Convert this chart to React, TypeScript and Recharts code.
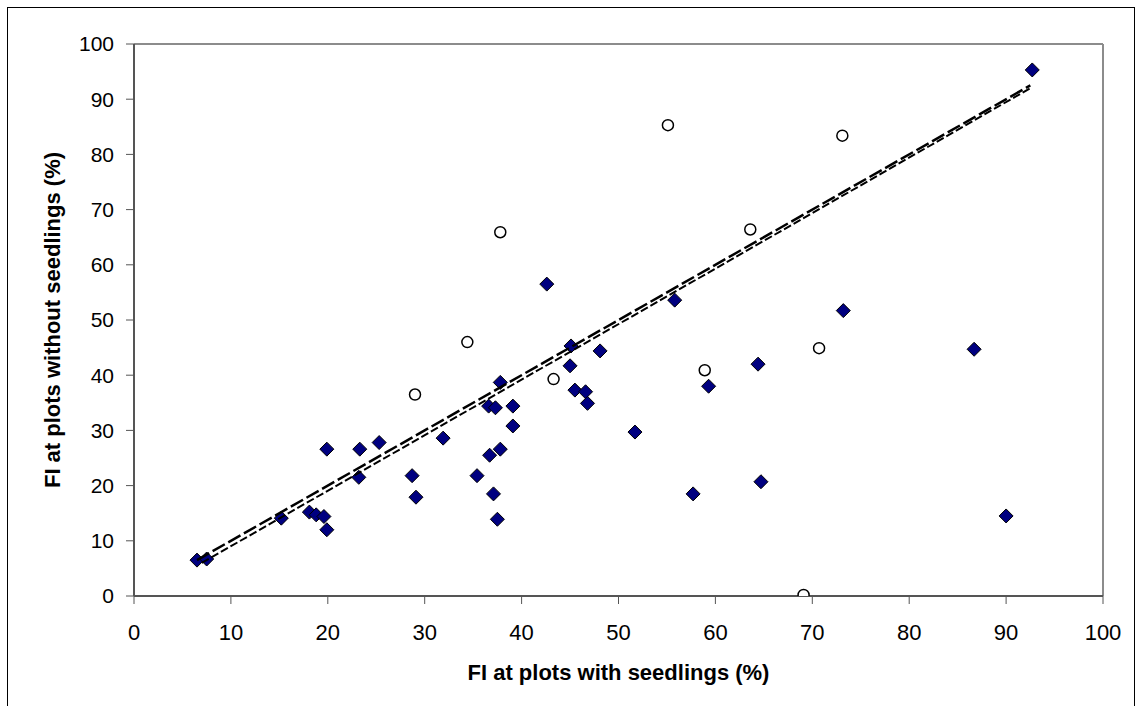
import React from "react";
import {
  ScatterChart,
  Scatter,
  XAxis,
  YAxis,
  ReferenceLine,
  Label,
} from "recharts";

// plots where seedlings were found (filled diamonds)
const seedX = [
  6.5, 7.5, 15.2, 18.1, 18.8, 19.6, 19.9, 19.9, 23.3, 25.3, 23.2, 28.7, 29.1, 31.9,
  35.4, 36.7, 37.8, 37.1, 37.5, 36.6, 37.3, 39.1, 39.1, 37.8, 42.6, 45.1, 45.0, 48.1,
  45.5, 46.6, 46.8, 51.7, 57.7, 55.8, 59.3, 64.4, 64.7, 73.2, 86.7, 90.0, 92.7,
];
const seedY = [
  6.5, 6.7, 14.1, 15.2, 14.7, 14.4, 12.0, 26.6, 26.6, 27.8, 21.5, 21.8, 17.9, 28.6,
  21.8, 25.5, 26.6, 18.5, 13.9, 34.4, 34.1, 34.4, 30.8, 38.7, 56.5, 45.3, 41.7, 44.4,
  37.3, 37.0, 34.9, 29.7, 18.5, 53.6, 38.0, 42.0, 20.7, 51.7, 44.7, 14.5, 95.3,
];

// open circles
const openX = [29.0, 34.4, 37.8, 43.3, 55.1, 58.9, 63.6, 70.7, 73.1, 69.1];
const openY = [36.5, 46.0, 65.9, 39.3, 85.3, 40.9, 66.4, 44.9, 83.4, 0.2];

// the two near-identical fit lines (end points)
const lineAX = [6.5, 92.5];
const lineAY = [6.5, 92.5];
const lineBX = [7.0, 92.5];
const lineBY = [6.0, 92.0];

const ticks = [0, 10, 20, 30, 40, 50, 60, 70, 80, 90, 100];

const toPts = (xs: number[], ys: number[]) => xs.map((x, i) => ({ x, y: ys[i] }));

const FONT = "'Liberation Sans', Arial, sans-serif";
const AXIS = "#555555";
const FRAME = "#8c8c8c";

const Diamond = (props: any) => {
  const { cx, cy } = props;
  const r = 7;
  return (
    <polygon
      points={`${cx},${cy - r} ${cx + r},${cy} ${cx},${cy + r} ${cx - r},${cy}`}
      fill="#000080"
      stroke="#000"
      strokeWidth={1}
    />
  );
};

const Ring = (props: any) => {
  const { cx, cy } = props;
  return <circle cx={cx} cy={cy} r={5.5} fill="#fff" stroke="#000" strokeWidth={1.5} />;
};

const NoDot = () => null;

const YTitle = (props: any) => {
  const { viewBox } = props;
  const cx = viewBox.x + 52;
  const cy = viewBox.y + viewBox.height / 2;
  return (
    <text
      x={cx}
      y={cy}
      transform={`rotate(-90 ${cx} ${cy})`}
      textAnchor="middle"
      dominantBaseline="central"
      fontFamily={FONT}
      fontWeight="bold"
      fontSize={22}
      fill="#000"
    >
      FI at plots without seedlings (%)
    </text>
  );
};

const XTitle = (props: any) => {
  const { viewBox } = props;
  const cx = viewBox.x + viewBox.width / 2;
  const cy = viewBox.y + 76;
  return (
    <text
      x={cx}
      y={cy}
      textAnchor="middle"
      dominantBaseline="central"
      fontFamily={FONT}
      fontWeight="bold"
      fontSize={22}
      fill="#000"
    >
      FI at plots with seedlings (%)
    </text>
  );
};

export default function App() {
  return (
    <div
      style={{
        position: "absolute",
        left: 0,
        top: 0,
        width: 1141,
        height: 706,
        overflow: "hidden",
        background: "#fff",
      }}
    >
      <div
        style={{
          position: "absolute",
          left: 7,
          top: 7,
          width: 1126,
          height: 720,
          border: "1px solid #000",
        }}
      />
      <div style={{ position: "absolute", left: 0, top: 0 }}>
        <ScatterChart
          width={1141}
          height={706}
          margin={{ top: 44, right: 38, bottom: 0, left: 0 }}
        >
          <XAxis
            type="number"
            dataKey="x"
            domain={[0, 100]}
            ticks={ticks}
            height={110}
            tickSize={8}
            tickMargin={20}
            axisLine={{ stroke: AXIS, strokeWidth: 2 }}
            tickLine={{ stroke: AXIS }}
            tick={{ fill: "#000", fontSize: 22, fontFamily: FONT }}
            allowDataOverflow
          >
            <Label content={<XTitle />} />
          </XAxis>
          <YAxis
            type="number"
            dataKey="y"
            domain={[0, 100]}
            ticks={ticks}
            width={134}
            tickSize={8}
            tickMargin={12}
            axisLine={{ stroke: AXIS, strokeWidth: 2 }}
            tickLine={{ stroke: AXIS }}
            tick={{ fill: "#000", fontSize: 21, fontFamily: FONT }}
            allowDataOverflow
          >
            <Label content={<YTitle />} />
          </YAxis>
          <ReferenceLine y={100} stroke={FRAME} strokeWidth={2} />
          <ReferenceLine x={100} stroke={FRAME} strokeWidth={2} />
          <Scatter
            data={toPts(seedX, seedY)}
            shape={<Diamond />}
            isAnimationActive={false}
          />
          <Scatter
            data={toPts(openX, openY)}
            shape={<Ring />}
            isAnimationActive={false}
          />
          <Scatter
            data={toPts(lineAX, lineAY)}
            line={{ stroke: "#000", strokeWidth: 2.5, strokeDasharray: "14 4" }}
            shape={<NoDot />}
            isAnimationActive={false}
          />
          <Scatter
            data={toPts(lineBX, lineBY)}
            line={{ stroke: "#000", strokeWidth: 2, strokeDasharray: "8 3" }}
            shape={<NoDot />}
            isAnimationActive={false}
          />
        </ScatterChart>
      </div>
    </div>
  );
}
